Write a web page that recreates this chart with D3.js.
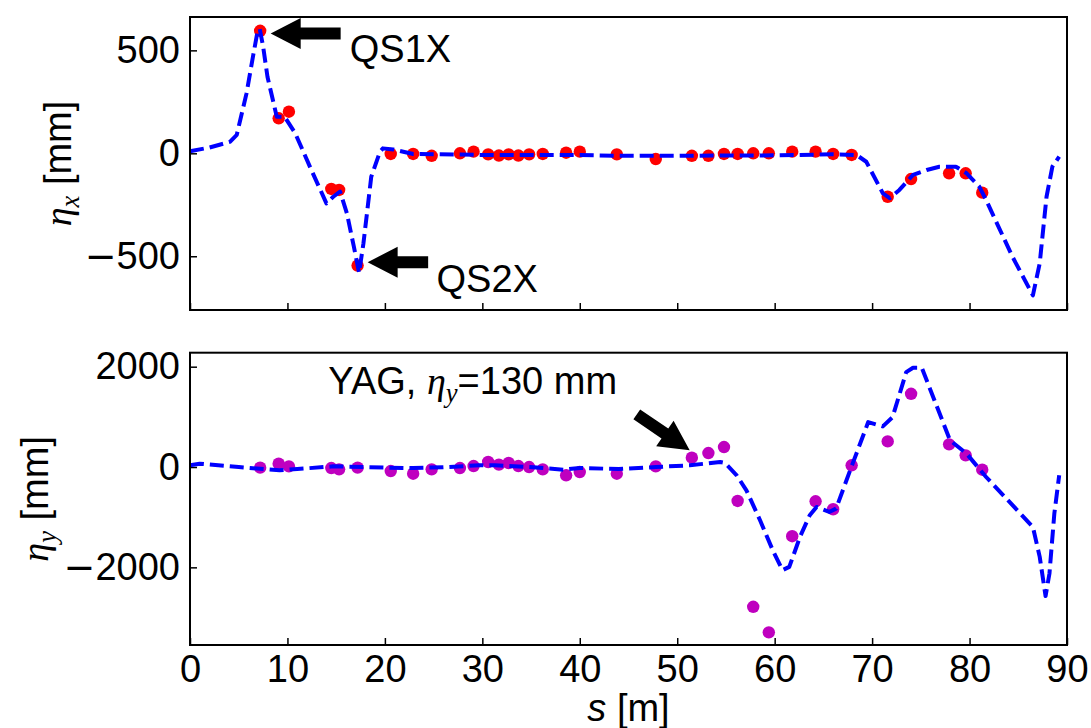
<!DOCTYPE html>
<html><head><meta charset="utf-8">
<script src="https://cdn.jsdelivr.net/npm/d3@7"></script>
<style>body{margin:0;background:#fff} svg{display:block}</style>
</head><body><svg id="c" width="1091" height="728"></svg>
<script>
// ---- data ----
const sMeas = [7.2, 9.1, 10.15, 14.5, 15.3, 17.2, 20.6, 22.9, 24.8, 27.7, 29.1, 30.6, 31.7, 32.7, 33.7, 34.8, 36.2, 38.6, 40.0, 43.8,
  47.8, 51.5, 53.2, 54.8, 56.2, 57.8, 59.4, 61.8, 64.2, 66.0, 67.9, 71.6, 74.0, 77.9, 79.6, 81.3];
const etaXMeas = [595, 170, 202, -173, -178, -545, -3, -3, -12, 0, 8, -5, -11, -5, -11, -5, -3, 3, 8, -5,
  -28, -12, -12, -3, -3, 0, 0, 8, 8, -3, -8, -211, -125, -97, -97, -191];
const etaYMeas = [-13, 67, 13, -20, -46, -13, -80, -133, -46, -20, 20, 100, 47, 80, 20, 0, -46, -165, -100, -133,
  13, 186, 279, 398, -677, -2786, -3296, -1379, -683, -842, 34, 511, 1460, 452, 233, -53];

const sModelX = [0, 2, 4.1, 4.8, 5.8, 6.5, 6.9, 7.15, 7.5, 7.95, 8.9, 9.7, 10.8, 12.4, 14.0, 14.7, 15.4, 16.1, 16.8, 17.35,
  17.8, 18.6, 19.5, 19.8, 20.85, 22.9, 30, 40, 44, 50, 60, 66, 68.4, 69.4, 71.1, 71.8, 72.8, 74.2, 75.6, 76.9,
  78.6, 79.7, 81.0, 81.7, 84.4, 86.5, 87.2, 87.9, 88.5, 89.2];
const etaXModel = [10, 28, 56, 90, 291, 480, 583, 605, 520, 372, 178, 178, 97, -75, -243, -211, -186, -291, -450, -580,
  -437, -114, 8, 24, 19, -3, -8, -8, -12, -12, -10, -5, -8, -41, -194, -218, -178, -105, -81, -65,
  -65, -97, -162, -227, -502, -690, -534, -211, -65, -16];

const sModelY = [0, 1, 5, 9.2, 11, 14.7, 20.2, 22.9, 26, 29.7, 31.3, 34.9, 38.3, 40, 44, 47.8, 51.3, 54.4, 54.9, 56.1,
  57.1, 58.5, 59.8, 60.8, 61.5, 62.6, 63.6, 64.3, 65.6, 66.3, 68.0, 69.6, 71.1, 72.1, 73.5, 74.2, 75.1, 78.0, 79.7, 81.7,
  86.5, 87.2, 87.8, 88.2, 88.7, 89.2];
const etaYModel = [34, 67, 0, -66, -40, 13, -13, -20, -5, 34, 34, 0, -53, -20, -40, 0, 34, 100, 80, -165,
  -464, -1061, -1658, -2056, -1990, -1393, -961, -796, -896, -829, 67, 896, 810, 995, 1891, 1978, 1978, 531, 266, -199,
  -1194, -1791, -2573, -2122, -928, -165];

const xTicks = [0, 10, 20, 30, 40, 50, 60, 70, 80, 90];
const yTicksTop = [-500, 0, 500];
const yTicksBot = [-2000, 0, 2000];

// annotations: tip, tail and text anchor in data coordinates
const annQS1X = {tip: [8.28, 582], tail: [15.46, 582], text: [16.4, 445], label: "QS1X"};
const annQS2X = {tip: [18.23, -529], tail: [24.44, -529], text: [25.3, -672], label: "QS2X"};
const annYAG  = {tip: [51.28, 332], tail: [45.85, 1049], text: [14.2, 1447]};

// ---- layout ----
const svg = d3.select("#c");
const FONT = "'Liberation Sans', Arial, Helvetica, sans-serif";
const FS = 38;
const x = d3.scaleLinear([0, 90], [190, 1067]);
const yTop = d3.scaleLinear([-761, 662], [310, 17]);
const yBot = d3.scaleLinear([-3548, 2279], [645, 352.7]);

function minusFix(sel) {
  sel.selectAll(".tick text").each(function(d) {
    const t = d3.select(this);
    if (d < 0) {
      t.text(null);
      t.append("tspan").attr("font-family", "'DejaVu Sans', sans-serif").text("\u2212");
      t.append("tspan").text(String(Math.abs(d)));
    }
  });
}

function panel(y, yTicks, showXLabels) {
  const g = svg.append("g");
  const ax = g.append("g").attr("transform", `translate(0,${y.range()[0]})`)
    .call(d3.axisBottom(x).tickValues(xTicks).tickSizeInner(-7).tickSizeOuter(0).tickPadding(10)
      .tickFormat(showXLabels ? d3.format("d") : () => ""));
  const ay = g.append("g").attr("transform", `translate(${x.range()[0]},0)`)
    .call(d3.axisLeft(y).tickValues(yTicks).tickSizeInner(-7).tickSizeOuter(0).tickPadding(10)
      .tickFormat(d3.format("d")));
  [ax, ay].forEach(a => {
    a.select(".domain").remove();
    a.selectAll(".tick line").attr("stroke", "#000").attr("stroke-width", 1.5);
    a.selectAll(".tick text").attr("font-family", FONT).attr("font-size", FS).attr("fill", "#000");
  });
  minusFix(ay);
  return g;
}

const gTop = panel(yTop, yTicksTop, false);
const gBot = panel(yBot, yTicksBot, true);

// points
gTop.append("g").selectAll("circle").data(sMeas.map((s, i) => [s, etaXMeas[i]])).join("circle")
  .attr("cx", d => x(d[0])).attr("cy", d => yTop(d[1])).attr("r", 6.2).attr("fill", "#ff0000");
gBot.append("g").selectAll("circle").data(sMeas.map((s, i) => [s, etaYMeas[i]])).join("circle")
  .attr("cx", d => x(d[0])).attr("cy", d => yBot(d[1])).attr("r", 6.2).attr("fill", "#bf00bf");

// model lines
function modelLine(g, y, sArr, vArr) {
  const line = d3.line().x(d => x(d[0])).y(d => y(d[1]));
  g.append("path").attr("d", line(sArr.map((s, i) => [s, vArr[i]])))
    .attr("fill", "none").attr("stroke", "#0000ff").attr("stroke-width", 4)
    .attr("stroke-dasharray", "14,6").attr("stroke-linejoin", "round");
}
modelLine(gTop, yTop, sModelX, etaXModel);
modelLine(gBot, yBot, sModelY, etaYModel);

// frames
function frame(y) {
  svg.append("rect").attr("x", x.range()[0]).attr("y", y.range()[1])
    .attr("width", x.range()[1] - x.range()[0]).attr("height", y.range()[0] - y.range()[1])
    .attr("fill", "none").attr("stroke", "#000").attr("stroke-width", 2);
}
frame(yTop); frame(yBot);

// arrows
function arrow(y, a) {
  const tip = [x(a.tip[0]), y(a.tip[1])], tail = [x(a.tail[0]), y(a.tail[1])];
  const dx = tip[0] - tail[0], dy = tip[1] - tail[1], L = Math.hypot(dx, dy);
  const ux = dx / L, uy = dy / L, nx = -uy, ny = ux;
  const hl = 30, hw = 15.5, sw = 6;
  const bx = tip[0] - ux * hl, by = tip[1] - uy * hl;
  const pts = [
    [tail[0] + nx * sw, tail[1] + ny * sw], [bx + nx * sw, by + ny * sw], [bx + nx * hw, by + ny * hw],
    tip, [bx - nx * hw, by - ny * hw], [bx - nx * sw, by - ny * sw], [tail[0] - nx * sw, tail[1] - ny * sw]];
  svg.append("path").attr("d", "M" + pts.map(p => p.join(",")).join("L") + "Z").attr("fill", "#000");
}
arrow(yTop, annQS1X); arrow(yTop, annQS2X); arrow(yBot, annYAG);

function txt(xp, yp) {
  return svg.append("text").attr("x", xp).attr("y", yp).attr("font-family", FONT).attr("font-size", FS).attr("fill", "#000");
}
txt(x(annQS1X.text[0]), yTop(annQS1X.text[1])).text(annQS1X.label);
txt(x(annQS2X.text[0]), yTop(annQS2X.text[1])).text(annQS2X.label);
const SERIF = "'Liberation Serif', 'DejaVu Serif', serif";
const yag = txt(x(annYAG.text[0]), yBot(annYAG.text[1]));
yag.append("tspan").text("YAG, ");
yag.append("tspan").attr("font-family", SERIF).attr("font-style", "italic").text("\u03B7");
yag.append("tspan").attr("font-family", SERIF).attr("font-style", "italic").attr("font-size", FS * 0.7).attr("dy", 8).text("y");
yag.append("tspan").attr("dy", -8).text("=130 mm");

// axis labels
const xl = txt((x.range()[0] + x.range()[1]) / 2, 721).attr("text-anchor", "middle");
xl.append("tspan").attr("font-style", "italic").text("s");
xl.append("tspan").text(" [m]");

function ylab(cx, cy, sub) {
  const t = svg.append("text").attr("transform", `translate(${cx},${cy}) rotate(-90)`)
    .attr("text-anchor", "middle").attr("font-family", FONT).attr("font-size", FS).attr("fill", "#000");
  t.append("tspan").attr("font-family", SERIF).attr("font-style", "italic").text("\u03B7");
  t.append("tspan").attr("font-family", SERIF).attr("font-style", "italic").attr("font-size", FS * 0.7).attr("dy", 8).text(sub);
  t.append("tspan").attr("dy", -8).text(" [mm]");
}
ylab(71, (yTop.range()[0] + yTop.range()[1]) / 2, "x");
ylab(48, (yBot.range()[0] + yBot.range()[1]) / 2, "y");
</script></body></html>
